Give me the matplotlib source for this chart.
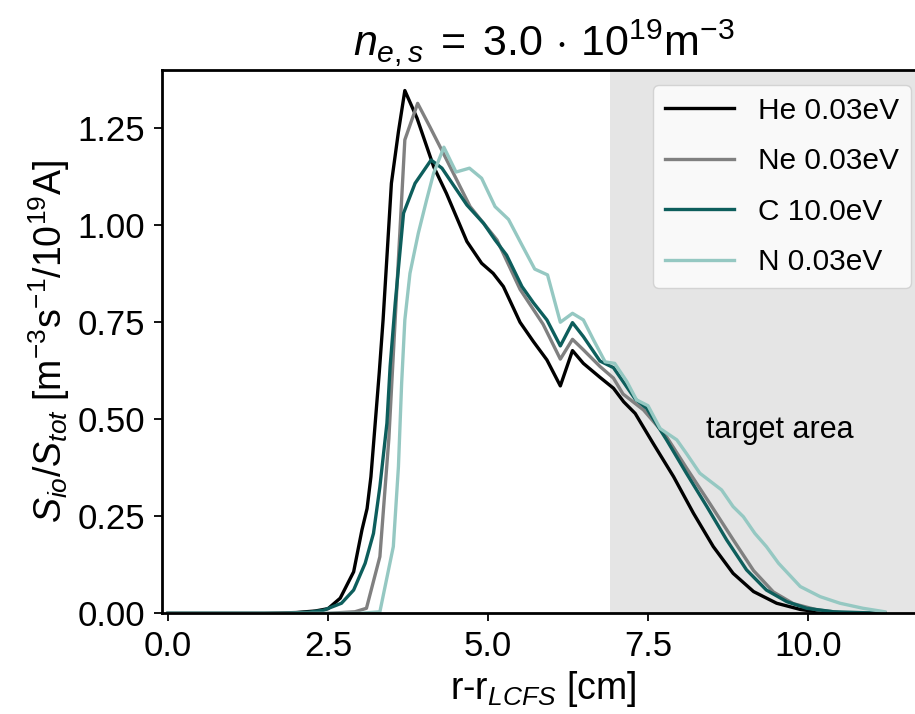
import numpy as np
import matplotlib
matplotlib.use('Agg')
import matplotlib.pyplot as plt

plt.rcParams['font.family'] = 'Liberation Sans'
plt.rcParams['mathtext.fontset'] = 'custom'
plt.rcParams['mathtext.rm'] = 'Liberation Sans'
plt.rcParams['mathtext.it'] = 'Liberation Sans:italic'
plt.rcParams['mathtext.bf'] = 'Liberation Sans:bold'

# ionisation source profiles, normalised by total source
x_he = [0.0, 1.5, 2.0, 2.3, 2.5, 2.69, 2.9, 3.03, 3.11, 3.17, 3.3, 3.36, 3.43, 3.49, 3.6, 3.7,
        3.89, 4.15, 4.35, 4.67, 4.9, 5.08, 5.24, 5.5, 5.71, 5.92, 6.13, 6.32, 6.49, 6.75, 6.96,
        7.12, 7.3, 7.58, 7.9, 8.21, 8.52, 8.83, 9.15, 9.51, 9.88, 10.14, 10.6, 11.2]
y_he = [0.0, 0.0, 0.002, 0.006, 0.012, 0.039, 0.107, 0.215, 0.27, 0.352, 0.62, 0.756, 0.945, 1.108, 1.241, 1.347,
        1.276, 1.151, 1.082, 0.958, 0.902, 0.876, 0.842, 0.75, 0.7, 0.653, 0.586, 0.677, 0.644, 0.608, 0.58,
        0.545, 0.515, 0.438, 0.352, 0.258, 0.172, 0.103, 0.056, 0.026, 0.01, 0.004, 0.0, 0.0]

x_ne = [0.0, 2.5, 2.92, 3.1, 3.31, 3.45, 3.55, 3.7, 3.9, 4.09, 4.3, 4.72, 5.14, 5.5, 5.86, 6.13,
        6.32, 6.49, 6.75, 6.96, 7.11, 7.43, 7.79, 8.1, 8.47, 8.83, 9.15, 9.46, 9.77, 10.14, 10.6, 11.2]
y_ne = [0.0, 0.0, 0.004, 0.013, 0.146, 0.45, 0.76, 1.22, 1.314, 1.254, 1.186, 1.048, 0.962, 0.835, 0.745, 0.655,
        0.706, 0.679, 0.636, 0.606, 0.565, 0.524, 0.455, 0.375, 0.282, 0.19, 0.11, 0.055, 0.025, 0.009, 0.0, 0.0]

x_c = [0.0, 1.8, 2.2, 2.43, 2.71, 2.9, 3.08, 3.21, 3.31, 3.42, 3.47, 3.55, 3.68, 3.86, 4.11, 4.28,
       4.67, 4.93, 5.11, 5.29, 5.53, 5.71, 5.92, 6.13, 6.32, 6.49, 6.75, 6.96, 7.3, 7.48, 7.79, 8.1,
       8.42, 8.73, 9.04, 9.35, 9.67, 9.98, 10.4, 11.2]
y_c = [0.0, 0.0, 0.003, 0.008, 0.026, 0.06, 0.129, 0.206, 0.326, 0.49, 0.636, 0.8, 1.031, 1.108, 1.168, 1.147,
       1.052, 1.005, 0.962, 0.923, 0.842, 0.8, 0.756, 0.689, 0.749, 0.713, 0.65, 0.633, 0.552, 0.528, 0.447, 0.361,
       0.275, 0.189, 0.112, 0.06, 0.03, 0.013, 0.004, 0.0]

x_n = [0.0, 3.0, 3.31, 3.52, 3.6, 3.65, 3.7, 3.78, 3.91, 4.04, 4.15, 4.31, 4.5, 4.71, 4.9, 5.11,
       5.32, 5.53, 5.73, 5.93, 6.13, 6.32, 6.49, 6.65, 6.83, 6.98, 7.17, 7.32, 7.5, 7.69, 7.95, 8.1,
       8.31, 8.65, 8.83, 8.99, 9.17, 9.35, 9.54, 9.88, 10.19, 10.5, 10.86, 11.2]
y_n = [0.0, 0.0, 0.004, 0.172, 0.378, 0.593, 0.756, 0.876, 0.979, 1.065, 1.134, 1.201, 1.137, 1.147, 1.121, 1.048,
       1.015, 0.949, 0.887, 0.872, 0.75, 0.773, 0.756, 0.704, 0.648, 0.644, 0.597, 0.55, 0.535, 0.476, 0.447, 0.412,
       0.361, 0.318, 0.275, 0.249, 0.206, 0.172, 0.129, 0.069, 0.043, 0.026, 0.013, 0.004]

labels = ['He 0.03eV', 'Ne 0.03eV', 'C 10.0eV', 'N 0.03eV']
colors = ['black', '#808080', '#0d5e5c', '#95c8c2']
target_start = 6.9

fig = plt.figure(figsize=(9.15, 7.14), dpi=100)
ax = fig.add_axes([0.1767, 0.141, 0.835, 0.761])

ax.axvspan(target_start, 13, color='#e5e5e5', lw=0, zorder=0)
for xs, ys, lab, col in zip([x_he, x_ne, x_c, x_n], [y_he, y_ne, y_c, y_n], labels, colors):
    ax.plot(xs, ys, color=col, lw=2.4, label=lab, zorder=2)

ax.text(8.4, 0.472, 'target area', fontsize=22, ha='left', va='center')

ax.set_xlim(-0.1, 11.84)
ax.set_ylim(0, 1.40)
ax.set_xticks([0.0, 2.5, 5.0, 7.5, 10.0])
ax.set_yticks([0.0, 0.25, 0.5, 0.75, 1.0, 1.25])
ax.xaxis.set_major_formatter(plt.FormatStrFormatter('%.1f'))
ax.yaxis.set_major_formatter(plt.FormatStrFormatter('%.2f'))
ax.tick_params(labelsize=25, length=6, width=1.3, pad=6)
for sp in ax.spines.values():
    sp.set_linewidth(2.0)

ax.set_xlabel(r'r-r$_{LCFS}$ [cm]', fontsize=27)
ax.set_ylabel(r'$S_{io}/S_{tot}$ [m$^{-3}$s$^{-1}$/10$^{19}$A]', fontsize=27, labelpad=4)
ax.set_title(r'$n_{e,s}\;=\;3.0\,\cdot\,10^{19}$m$^{-3}$', fontsize=31, pad=10)

ax.legend(loc='upper right', fontsize=21.5, handlelength=2.3, labelspacing=0.75)

fig.savefig('out.png', dpi=100)
